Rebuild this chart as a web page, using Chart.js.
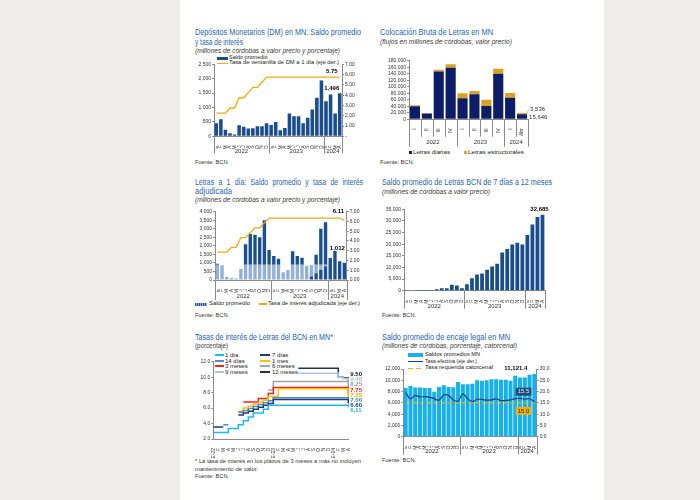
<!DOCTYPE html>
<html lang="es">
<head>
<meta charset="utf-8">
<title>Indicadores monetarios BCN</title>
<script src="https://cdn.jsdelivr.net/npm/chart.js@4.4.1/dist/chart.umd.min.js"></script>
<style>
  html, body { margin: 0; padding: 0; }
  body { position: relative; width: 700px; height: 500px; overflow: hidden; background: #efedeb; }
  #hoja { position: absolute; left: 180px; top: 0; width: 424px; height: 500px; background: #fff; }
  .t { position: absolute; white-space: nowrap; line-height: 1; font-family: "Liberation Sans", Arial, sans-serif; transform-origin: 0 50%; }
  .ti { color: #1f63ad; font-size: 8.5px; }
  .sub { color: #3a3a3a; font-size: 6.5px; font-style: italic; }
  .src { color: #333; font-size: 6px; }
  .lg { color: #222; font-size: 5.5px; }
  .mk { position: absolute; }
  canvas { position: absolute; }
</style>
</head>
<body>
<div id="hoja"></div>
<script>
// ---- datos ----
const meses = ["E", "F", "M", "A", "M", "J", "J", "A", "S", "O", "N", "D"];
const meses2024 = ["E", "F", "M", "A"];
const etiquetasMes = [...meses, ...meses, ...meses2024];
const anios = ["2022", "2023", "2024"];
const mesesPorAnio = [12, 12, 4];

// 1. Depósitos monetarios
const saldoDM = [450, 590, 230, 110, 60, 380, 330, 270, 280, 350, 350, 450,
  390, 500, 210, 290, 790, 700, 700, 450, 640, 930, 1340, 1940,
  1220, 1450, 790, 1496];
const tasaDM = [2.25, 2.25, 2.25, 2.75, 2.75, 3.75, 3.75, 4.25, 4.75, 4.75, 5.25, 5.75,
  5.75, 5.75, 5.75, 5.75, 5.75, 5.75, 5.75, 5.75, 5.75, 5.75, 5.75, 5.75,
  5.75, 5.75, 5.75, 5.75];

// 2. Colocación bruta de letras
const trimestres = ["I", "II", "III", "IV", "I", "II", "III", "IV", "I", "Abr"];
const trimestresPorAnio = [4, 4, 2];
const letrasDiarias = [40000, 18000, 147000, 158000, 65000, 77000, 41000, 140000, 66000, 15646];
const letrasEstructurales = [3000, 500, 5000, 11000, 15000, 10000, 19000, 15000, 15000, 3536];

// 3. Letras a 1 día
const saldo1d = [950, 870, 180, 120, 90, 650, 2100, 2700, 2650, 2500, 3500, 1750,
  1400, 1250, 450, 580, 1680, 1400, 1300, 820, 880, 1480, 3000, 3380,
  1290, 1700, 1100, 1012];
const tasa1dAdj = [2.85, 2.85, 2.85, 3.35, 3.35, 4.35, 4.35, 4.85, 5.35, 5.35, 5.85, 6.35,
  6.35, 6.35, 6.35, 6.35, 6.35, 6.35, 6.35, 6.35, 6.35, 6.35, 6.35, 6.35,
  6.35, 6.35, 6.35, 6.11];
const franjaClara = 900;          // tope de la franja clara de las barras
const franjaHasta = 23;           // último mes con franja (dic-2023)
const baseOscura = [0, 0, 0, 0, 0, 0, 0, 0, 0, 0, 0, 0,
  0, 0, 0, 0, 0, 0, 0, 30, 200, 400, 600, 800,
  0, 0, 0, 0];

// 4. Letras de 7 días a 12 meses
const saldo7a12 = [300, 150, 50, 30, 20, 20, 600, 1000, 1000, 2600, 2200, 1000,
  2800, 5300, 7000, 7400, 9000, 10400, 11600, 16400, 17900, 19900, 20600, 19900,
  23900, 28500, 31700, 32685];

// 5. Tasas de interés por plazo
const etiquetasTasas = ["E-22", "F", "M", "A", "M", "J", "J", "A", "S", "O", "N", "D",
  "E-23", "F", "M", "A", "M", "J", "J", "A", "S", "O", "N", "D",
  "E-24", "F", "M", "A"];
const tasa1d = [2.85, 2.85, 2.85, 3.35, 3.35, 3.85, 4.35, 4.85, 5.35, 5.35, 5.85, 6.35,
  6.35, 6.35, 6.35, 6.35, 6.35, 6.35, 6.35, 6.35, 6.35, 6.35, 6.35, 6.35,
  6.35, 6.35, 6.35, 6.11];
const tasa7d = [3.55, 3.55, 3.55, null, null, 5.10, 5.35, 5.60, 5.85, 6.10, 6.35, 6.60,
  7.10, 7.10, 7.10, 7.10, 7.10, 7.10, 7.10, 7.10, 7.10, 7.10, 7.10, 7.10,
  7.10, 7.10, 7.10, 6.60];
const tasa14d = [null, null, 3.85, 3.85, null, 5.45, 5.70, 5.95, 6.20, 6.45, 6.70, 6.95,
  7.35, 7.35, 7.35, 7.35, 7.35, 7.35, 7.35, 7.35, 7.35, 7.35, 7.35, 7.35,
  7.35, 7.35, 7.35, 7.00];
const tasa1m = [null, null, null, null, null, 5.60, 6.00, 6.25, 6.50, 6.75, 7.00, 7.50,
  7.50, 8.50, 8.50, 8.50, 8.50, 8.50, 8.50, 8.50, 8.50, 8.50, 8.50, 8.50,
  8.50, 8.50, 8.50, 7.35];
const tasa3m = [null, null, null, null, null, null, 6.80, 6.80, 6.80, 7.25, 7.25, 7.90,
  8.65, 8.65, 8.65, 8.65, 8.65, 8.65, 8.65, 8.65, 8.65, 8.65, 8.65, 8.65,
  8.65, 8.65, 8.65, 7.75];
const tasa6m = [null, null, null, null, null, null, null, null, null, null, null, 8.35,
  9.45, 9.45, 9.45, 9.45, 9.45, 9.45, 9.45, 9.45, 9.45, 9.45, 9.45, 9.45,
  9.45, 9.45, 9.45, 8.25];
const tasa9m = [null, null, null, null, null, null, null, null, null, null, null, null,
  null, null, null, null, null, 10.50, 10.50, 10.50, 10.50, 10.50, 10.50, 10.50,
  10.50, 10.00, 9.80, 9.40];
const tasa12m = [null, null, null, null, null, null, null, null, null, null, null, null,
  null, null, null, null, null, 11.15, 11.15, 11.15, 11.15, 11.15, 11.15, 11.15,
  11.15, 10.00, 9.90, 9.50];

// 6. Encaje legal
const saldoEncaje = [8650, 9000, 8700, 8700, 8650, 8650, 7950, 8800, 9100, 8800, 8750, 9700,
  9300, 9300, 9400, 10000, 9900, 10000, 10200, 10200, 10100, 10100, 9900, 10800,
  10500, 10500, 11000, 11121.4];
const tasaEfectiva = [19.5, 16.8, 18.3, 17.6, 17.8, 17.5, 16.9, 16.2, 18.5, 18.3, 16.3, 15.8,
  19.0, 16.8, 15.6, 16.6, 16.5, 16.2, 16.3, 16.8, 16.0, 16.1, 16.3, 16.9,
  17.0, 16.6, 16.8, 15.5];
const tasaRequerida = [15, 15, 15, 15, 15, 15, 15, 15, 15, 15, 15, 15,
  15, 15, 15, 15, 15, 15, 15, 15, 15, 15, 15, 15,
  15, 15, 15, 15];

// ---- estilo ----
const FS = '"Liberation Sans", Arial, sans-serif';
const EJE = "#8a8a8a";
const AZUL = "#1a4d8e";
const NARANJA = "#f2a914";

Chart.defaults.font.family = FS;
Chart.defaults.font.size = 5;
Chart.defaults.color = "#222";

const miles = (v) => v.toLocaleString("en-US");
const gruposAnio = anios.map((a, k) => ({ label: a, n: mesesPorAnio[k] }));

// ---- helpers de página ----
const TAM = { ti: 8.5, sub: 6.5, src: 6, lg: 5.5 };
// texto real; si se da "ancho" se comprime horizontalmente hasta ese ancho
function texto(x, yc, s, cls, ancho, css) {
  const d = document.createElement("div");
  d.className = "t " + cls;
  d.textContent = s;
  d.style.left = x + "px";
  d.style.top = yc - TAM[cls] * 0.55 + "px";
  if (css) Object.assign(d.style, css);
  document.body.appendChild(d);
  if (ancho) d.style.transform = "scaleX(" + ancho / d.getBoundingClientRect().width + ")";
}
function marca(x, y, w, h, css) {
  const d = document.createElement("div");
  d.className = "mk";
  Object.assign(d.style, { left: x + "px", top: y + "px", width: w + "px", height: h + "px" }, css);
  document.body.appendChild(d);
}
function lienzo(x, y, w, h) {
  const c = document.createElement("canvas");
  c.width = w;
  c.height = h;
  c.style.left = x + "px";
  c.style.top = y + "px";
  document.body.appendChild(c);
  return c;
}

// ---- plugins ----
// separadores y rótulos de año bajo el eje x
const anioPlugin = {
  id: "anios",
  afterDraw(chart, args, o) {
    if (!o.grupos) return;
    const x = chart.scales.x, ctx = chart.ctx;
    const borde = (k) => x.getPixelForValue(k - 0.5);
    const raya = (px, len) => {
      const p = Math.round(px) + 0.5;
      ctx.beginPath();
      ctx.moveTo(p, x.top);
      ctx.lineTo(p, x.top + len);
      ctx.stroke();
    };
    ctx.save();
    ctx.strokeStyle = EJE;
    ctx.lineWidth = 1;
    ctx.fillStyle = "#333";
    ctx.font = "6px " + FS;
    ctx.textAlign = "center";
    ctx.textBaseline = "middle";
    const total = o.grupos.reduce((s, g) => s + g.n, 0);
    if (o.corteCat) for (let k = 0; k <= total; k++) raya(borde(k), o.corteCat);
    raya(borde(0), o.corte);
    let k = 0;
    o.grupos.forEach((g) => {
      const a = borde(k), b = borde(k + g.n);
      raya(b, o.corte);
      ctx.fillText(g.label, (a + b) / 2, x.top + o.texto);
      k += g.n;
    });
    ctx.restore();
  },
};

// rótulos de valor junto a una barra o punto
const notasPlugin = {
  id: "notas",
  afterDatasetsDraw(chart, args, o) {
    if (!o.items) return;
    const ctx = chart.ctx;
    o.items.forEach((it) => {
      const el = chart.getDatasetMeta(it.ds).data[it.i];
      const x = el.x + (it.dx || 0), y = el.y + (it.dy || 0);
      ctx.save();
      ctx.font = it.font || "bold 6px " + FS;
      ctx.textAlign = it.align || "center";
      ctx.textBaseline = "middle";
      if (it.guia) {
        ctx.strokeStyle = "#999";
        ctx.lineWidth = 0.6;
        ctx.beginPath();
        ctx.moveTo(el.x + it.guia[0], el.y + it.guia[1]);
        ctx.lineTo(x - 1, y);
        ctx.stroke();
      }
      if (it.fondo) {
        const w = ctx.measureText(it.text).width + 4;
        ctx.fillStyle = it.fondo;
        ctx.fillRect(x - w / 2, y - 4, w, 8);
      }
      ctx.fillStyle = it.color || "#000";
      ctx.fillText(it.text, x, y);
      ctx.restore();
    });
  },
};

// valores finales de cada serie a la derecha, sin solaparse
const finalesPlugin = {
  id: "finales",
  afterDatasetsDraw(chart, args, o) {
    if (!o.gap) return;
    const ctx = chart.ctx, area = chart.chartArea;
    const items = chart.data.datasets.map((d, k) => {
      const pts = chart.getDatasetMeta(k).data;
      return { y: pts[pts.length - 1].y, v: d.data[d.data.length - 1], c: d.colorRotulo };
    }).sort((p, q) => p.y - q.y);
    const ys = items.map((p) => p.y);
    for (let k = 1; k < ys.length; k++) ys[k] = Math.max(ys[k], ys[k - 1] + o.gap);
    const shift = (items.reduce((s, p) => s + p.y, 0) - ys.reduce((s, y) => s + y, 0)) / ys.length;
    ctx.save();
    ctx.font = "bold 6px " + FS;
    ctx.textAlign = "left";
    ctx.textBaseline = "middle";
    items.forEach((p, k) => {
      ctx.fillStyle = p.c;
      ctx.fillText(p.v.toFixed(2), area.right + o.dx, ys[k] + shift + o.dy);
    });
    ctx.restore();
  },
};

Chart.register(anioPlugin, notasPlugin, finalesPlugin);

// ---- ejes ----
function ejeY(pos, ancho, min, max, paso, fmt) {
  return {
    position: pos, min, max,
    border: { color: EJE },
    grid: { drawOnChartArea: false, tickLength: 2, color: EJE },
    ticks: { stepSize: paso, autoSkip: false, padding: 1, callback: fmt, color: "#333" },
    afterFit: (s) => { s.width = ancho; },
  };
}
function ejeX(alto, stacked) {
  return {
    stacked: !!stacked,
    border: { color: EJE },
    grid: { display: false },
    ticks: { autoSkip: false, minRotation: 90, maxRotation: 90, padding: 1, color: "#333" },
    afterFit: (s) => { s.height = alto; },
  };
}
function base(extra) {
  return Object.assign({ responsive: false, devicePixelRatio: 1, animation: false, events: [] }, extra, {
    plugins: Object.assign({ legend: { display: false }, tooltip: { enabled: false } }, extra.plugins),
  });
}

// =============== 1. Depósitos monetarios ===============
texto(195, 33, "Depósitos Monetarios (DM) en MN: Saldo promedio", "ti", 166);
texto(195, 43, "y tasa de interés", "ti", 48);
texto(195, 52, "(millones de córdobas a valor precio y porcentaje)", "sub", 145);
marca(217, 57, 11, 3, { background: AZUL });
texto(229, 58.3, "Saldo promedio", "lg");
marca(217, 62.6, 11, 1.4, { background: NARANJA });
texto(229, 63.3, "Tasa de ventanilla de DM a 1 día (eje der.)", "lg", 110);
texto(195, 162, "Fuente: BCN.", "src", 34);

new Chart(lienzo(190, 56, 180, 104), {
  data: {
    labels: etiquetasMes,
    datasets: [
      { type: "line", data: tasaDM, yAxisID: "y2", borderColor: NARANJA, borderWidth: 1.3, pointRadius: 0, order: 0 },
      { type: "bar", data: saldoDM, backgroundColor: AZUL, barPercentage: 0.78, categoryPercentage: 1, order: 1 },
    ],
  },
  options: base({
    layout: { padding: { top: 8.3 } },
    scales: {
      x: ejeX(23.7),
      y: ejeY("left", 24, 0, 2500, 500, miles),
      y2: ejeY("right", 28, 0, 7, 1, (v) => (v === 0 ? "-" : v.toFixed(2))),
    },
    plugins: {
      anios: { grupos: gruposAnio, corte: 17, texto: 15.4 },
      notas: { items: [
        { ds: 0, i: 27, text: tasaDM[27].toFixed(2), dx: -8, dy: -5.4 },
        { ds: 1, i: 27, text: miles(saldoDM[27]), dx: -8, dy: -5 },
      ] },
    },
  }),
});

// =============== 2. Colocación bruta de letras ===============
texto(380, 33, "Colocación Bruta de Letras en MN", "ti", 113);
texto(380, 43, "(flujos en millones de córdobas, valor precio)", "sub", 132);
marca(409, 151.2, 3, 3, { background: "#0c1c66" });
texto(412.5, 152.7, "Letras diarias", "lg", 37);
marca(464, 151.2, 3, 3, { background: "#dca11d" });
texto(467.5, 152.7, "Letras estructurales", "lg", 56);
texto(380, 162, "Fuente: BCN.", "src", 34);

new Chart(lienzo(375, 55, 175, 100), {
  type: "bar",
  data: {
    labels: trimestres,
    datasets: [
      { label: "Letras diarias", data: letrasDiarias, backgroundColor: "#0c1c66", barPercentage: 0.85, categoryPercentage: 1 },
      { label: "Letras estructurales", data: letrasEstructurales, backgroundColor: "#dca11d", barPercentage: 0.85, categoryPercentage: 1 },
    ],
  },
  options: base({
    layout: { padding: { top: 5.7, right: 22 } },
    scales: {
      x: ejeX(35.7, true),
      y: Object.assign(ejeY("left", 34, 0, 180000, 20000, miles), { stacked: true }),
    },
    plugins: {
      anios: { grupos: anios.map((a, k) => ({ label: a, n: trimestresPorAnio[k] })), corte: 27.4, corteCat: 17.4, texto: 23.4 },
      notas: { items: [
        { ds: 1, i: 9, text: miles(letrasEstructurales[9]), dx: 8, dy: -3.8, align: "left", font: "6px " + FS, color: "#333", guia: [5, 0] },
        { ds: 0, i: 9, text: miles(letrasDiarias[9]), dx: 7, dy: 3.2, align: "left", font: "6px " + FS, color: "#333" },
      ] },
    },
  }),
});

// =============== 3. Letras a 1 día ===============
texto(195, 183, "Letras a 1 día: Saldo promedio y tasa de interés", "ti", 168, { wordSpacing: "3px" });
texto(195, 192, "adjudicada", "ti", 37);
texto(195, 200.5, "(millones de córdobas a valor precio y porcentaje)", "sub", 145);
marca(195, 302.6, 12, 3, { background: "repeating-linear-gradient(90deg, #1a4f90 0 1px, #93b0d6 1px 2px)" });
texto(209, 304, "Saldo promedio", "lg", 41);
marca(259, 303.3, 8, 1.4, { background: NARANJA });
texto(268, 304, "Tasa de interés adjudicada (eje der.)", "lg", 92);
texto(195, 315, "Fuente: BCN.", "src", 34);

const parteClara = saldo1d.map((v, i) => (i <= franjaHasta ? Math.max(Math.min(v, franjaClara) - baseOscura[i], 0) : 0));
const parteAlta = saldo1d.map((v, i) => v - baseOscura[i] - parteClara[i]);

new Chart(lienzo(190, 205, 180, 100), {
  data: {
    labels: etiquetasMes,
    datasets: [
      { type: "line", data: tasa1dAdj, yAxisID: "y2", borderColor: NARANJA, borderWidth: 1.3, pointRadius: 0, order: 0 },
      { type: "bar", data: baseOscura, backgroundColor: "#1a4f90", barPercentage: 0.72, categoryPercentage: 1, order: 1 },
      { type: "bar", data: parteClara, backgroundColor: "#93b0d6", barPercentage: 0.72, categoryPercentage: 1, order: 1 },
      { type: "bar", data: parteAlta, backgroundColor: "#1a4f90", barPercentage: 0.72, categoryPercentage: 1, order: 1 },
    ],
  },
  options: base({
    layout: { padding: { top: 6.7 } },
    scales: {
      x: ejeX(25, true),
      y: Object.assign(ejeY("left", 25, 0, 4000, 500, miles), { stacked: true }),
      y2: ejeY("right", 23.3, 0, 7, 1, (v) => v.toFixed(2)),
    },
    plugins: {
      anios: { grupos: gruposAnio, corte: 20, texto: 16.7 },
      notas: { items: [
        { ds: 0, i: 27, text: tasa1dAdj[27].toFixed(2), dx: -6, dy: -8.6 },
        { ds: 3, i: 27, text: miles(saldo1d[27]), dx: -7, dy: -14.7 },
      ] },
    },
  }),
});

// =============== 4. Letras de 7 días a 12 meses ===============
texto(382, 183, "Saldo promedio de Letras BCN de 7 días a 12 meses", "ti", 170);
texto(382, 193, "(millones de córdobas a valor precio)", "sub", 108);
texto(382, 315, "Fuente: BCN.", "src", 34);

new Chart(lienzo(375, 200, 175, 112), {
  type: "bar",
  data: {
    labels: etiquetasMes,
    datasets: [{ data: saldo7a12, backgroundColor: AZUL, barPercentage: 0.75, categoryPercentage: 1 }],
  },
  options: base({
    layout: { padding: { top: 9.3, right: 5 } },
    scales: {
      x: ejeX(21.3),
      y: ejeY("left", 29, 0, 35000, 5000, miles),
    },
    plugins: {
      anios: { grupos: gruposAnio, corte: 18, texto: 15.3 },
      notas: { items: [{ ds: 0, i: 27, text: miles(saldo7a12[27]), dx: -3, dy: -5.5 }] },
    },
  }),
});

// =============== 5. Tasas de interés de Letras ===============
texto(195, 338, "Tasas de interés de Letras del BCN en MN*", "ti", 138);
texto(195, 347, "(porcentaje)", "sub", 33, { fontStyle: "normal" });

const series = [
  { label: "1 día", data: tasa1d, color: "#22b5ee", rot: "#22b5ee" },
  { label: "7 días", data: tasa7d, color: "#1f3b7a", rot: "#1f3b7a" },
  { label: "14 días", data: tasa14d, color: "#4f8cc9", rot: "#3f7fc2" },
  { label: "1 mes", data: tasa1m, color: "#ffc000", rot: "#f5b000" },
  { label: "3 meses", data: tasa3m, color: "#ff1f1f", rot: "#ff1f1f" },
  { label: "6 meses", data: tasa6m, color: "#a5a5a5", rot: "#9a9a9a" },
  { label: "9 meses", data: tasa9m, color: "#a9c5e8", rot: "#9dbde6" },
  { label: "12 meses", data: tasa12m, color: "#303030", rot: "#111" },
];
const filasLeyenda = [355, 360.7, 366, 371.7];
[0, 2, 4, 6].forEach((k, r) => {
  marca(215, filasLeyenda[r] - 0.7, 9, 1.5, { background: series[k].color });
  texto(225, filasLeyenda[r], series[k].label, "lg", null, { fontSize: "6px" });
});
[1, 3, 5, 7].forEach((k, r) => {
  marca(260, filasLeyenda[r] - 0.7, 10, 1.5, { background: series[k].color });
  texto(272, filasLeyenda[r], series[k].label, "lg", null, { fontSize: "6px" });
});
texto(195, 461, "* La tasa de interés en los plazos de 3 meses a más no incluyen", "src", 166);
texto(195, 469, "mantenimiento de valor.", "src", 63);
texto(195, 476, "Fuente: BCN.", "src", 34);

new Chart(lienzo(190, 350, 180, 112), {
  type: "line",
  data: {
    labels: etiquetasTasas,
    datasets: series.map((s) => ({
      label: s.label, data: s.data, borderColor: s.color, colorRotulo: s.rot,
      borderWidth: 1.5, pointRadius: 0, stepped: true, spanGaps: false,
    })),
  },
  options: base({
    layout: { padding: { top: 11.7, right: 21.7 } },
    scales: {
      x: ejeX(23),
      y: ejeY("left", 23.3, 2, 12, 2, (v) => v.toFixed(1)),
    },
    plugins: { finales: { gap: 5.2, dx: 2, dy: -2 } },
  }),
});

// =============== 6. Encaje legal ===============
texto(382, 338, "Saldo promedio de encaje legal en MN", "ti", 128);
texto(382, 347, "(millones de córdobas, porcentaje, catorcenal)", "sub", 135);
marca(408, 353.2, 15, 3.6, { background: "#17b0ea" });
texto(425, 355, "Saldos promedios MN", "lg", 55);
marca(408, 361, 15, 1.3, { background: "#1f3e73" });
texto(425, 361.7, "Tasa efectiva (eje der.)", "lg", 52);
marca(408, 367.6, 5, 1.4, { background: "#f4b400" });
marca(416, 367.6, 5, 1.4, { background: "#f4b400" });
texto(425, 368.3, "Tasa requerida catorcenal", "lg", 68);
texto(382, 460, "Fuente: BCN.", "src", 34);

new Chart(lienzo(375, 360, 180, 100), {
  data: {
    labels: etiquetasMes,
    datasets: [
      { type: "line", data: tasaRequerida, yAxisID: "y2", borderColor: "#f4b400", borderWidth: 1.4, borderDash: [4, 3], pointRadius: 0, order: 0 },
      { type: "line", data: tasaEfectiva, yAxisID: "y2", borderColor: "#1f3e73", borderWidth: 1.2, pointRadius: 0, tension: 0.4, order: 1 },
      { type: "bar", data: saldoEncaje, backgroundColor: "#17b0ea", barPercentage: 0.85, categoryPercentage: 1, order: 2 },
    ],
  },
  options: base({
    layout: { padding: { top: 9 } },
    scales: {
      x: ejeX(23.3),
      y: ejeY("left", 28.3, 0, 12000, 2000, miles),
      y2: ejeY("right", 18.3, 0, 30, 5, (v) => v.toFixed(1)),
    },
    plugins: {
      anios: { grupos: gruposAnio, corte: 18, texto: 14.3 },
      notas: { items: [
        { ds: 2, i: 27, text: saldoEncaje[27].toLocaleString("en-US", { minimumFractionDigits: 1 }), dx: -7, dy: -6, align: "right" },
        { ds: 1, i: 27, text: tasaEfectiva[27].toFixed(1), dx: -10.8, dy: -10, font: "6px " + FS, color: "#dfe8f5", fondo: "#1f4e79" },
        { ds: 0, i: 27, text: tasaRequerida[27].toFixed(1), dx: -10.8, dy: 8, font: "6px " + FS, color: "#222", fondo: "#f0b000" },
      ] },
    },
  }),
});
</script>
</body>
</html>
